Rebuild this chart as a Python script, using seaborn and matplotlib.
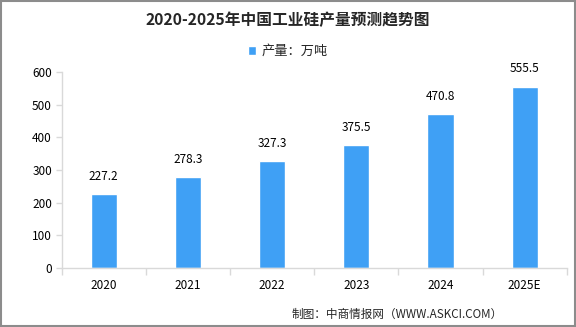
import matplotlib
matplotlib.use("Agg")
import matplotlib.pyplot as plt
import seaborn as sns
import pandas as pd
from matplotlib.patches import Rectangle

years = ["2020", "2021", "2022", "2023", "2024", "2025E"]
output = [227.2, 278.3, 327.3, 375.5, 470.8, 555.5]
series_name = "产量：万吨"
title = "2020-2025年中国工业硅产量预测趋势图"
source = "制图：中商情报网（WWW.ASKCI.COM）"

sns.set_theme(style="white")
plt.rcParams['font.family'] = ['Noto Sans CJK SC', 'DejaVu Sans']

df = pd.DataFrame({"year": years, "value": output})

fig = plt.figure(figsize=(5.76, 3.27), dpi=100)
ax = fig.add_axes([0.107, 0.1804, 0.877, 0.5994])

bar_color = "#3FA0F5"
sns.barplot(data=df, x="year", y="value", color=bar_color, width=0.31,
            ax=ax, label=series_name, saturation=1)

ax.set_ylim(0, 600)
ax.set_xlim(-0.5, len(years) - 0.5)
ax.set_yticks(range(0, 601, 100))
ax.set_xlabel("")
ax.set_ylabel("")

grey = "#d9d9d9"
for s in ["top", "right"]:
    ax.spines[s].set_visible(False)
for s in ["left", "bottom"]:
    ax.spines[s].set_color(grey)
    ax.spines[s].set_linewidth(1)

ax.set_xticks([i - 0.5 for i in range(len(years) + 1)], minor=True)
ax.tick_params(axis="x", which="major", length=0, labelsize=8.5, pad=8, colors="black")
ax.tick_params(axis="x", which="minor", length=5, color=grey, width=1, bottom=True)
ax.tick_params(axis="y", which="major", length=4, color=grey, width=1, labelsize=8.5,
               pad=3, colors="black", left=True)
ax.tick_params(axis="y", colors=grey, labelcolor="black")
ax.tick_params(axis="x", which="minor", colors=grey)

for c in ax.containers:
    ax.bar_label(c, labels=[f"{v:.1f}" for v in output], padding=8, fontsize=8.5, color="black")

leg = ax.legend(loc="center", bbox_to_anchor=(0.5, 0.842), bbox_transform=fig.transFigure,
                frameon=False, fontsize=9.5, handlelength=0.62, handleheight=0.62,
                handletextpad=0.45)

fig.text(0.5, 0.938, title, ha="center", va="center", fontsize=11.3, fontweight="bold")
fig.text(0.873, 0.04, source, ha="right", va="center", fontsize=8.4)

fig.patches.append(Rectangle((0.001, 0.002), 0.997, 0.995, transform=fig.transFigure,
                             fill=False, edgecolor="#8c8c8c", linewidth=1.5))

fig.savefig("out.png", dpi=100)
